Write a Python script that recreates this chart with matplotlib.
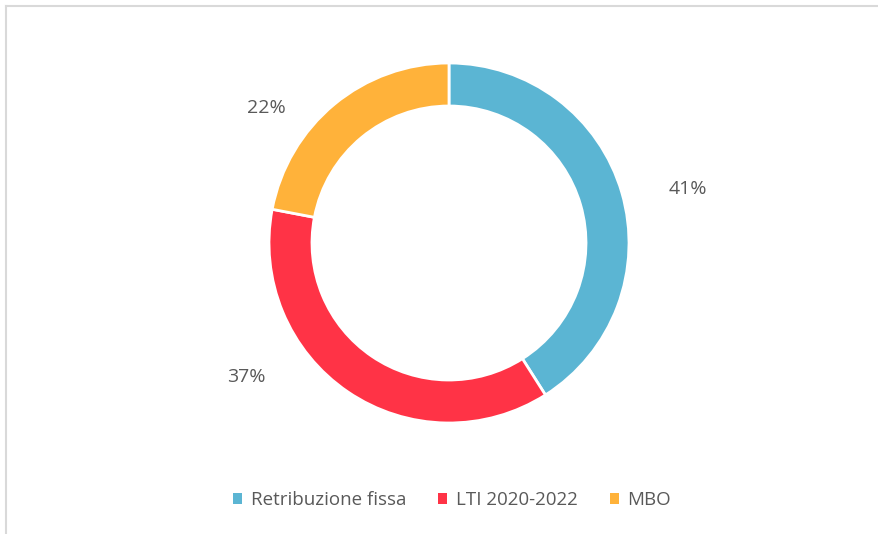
import matplotlib
matplotlib.use("Agg")
import matplotlib.pyplot as plt
from matplotlib.patches import Patch
from matplotlib.lines import Line2D

categories = ["Retribuzione fissa", "LTI 2020-2022", "MBO"]
values = [41, 37, 22]
labels = ["41%", "37%", "22%"]
colors = ["#5BB5D3", "#FF3346", "#FFB23A"]

W, H = 879, 534
fig = plt.figure(figsize=(W / 100, H / 100), dpi=100)
plt.rcParams['font.family'] = ['Open Sans', 'DejaVu Sans']

# chart frame (cropped at right/bottom): top and left edges only
fx, fy = 6.5 / W, 1 - 5.5 / H
fig.lines.append(Line2D([fx, 1.0], [fy, fy], transform=fig.transFigure,
                        color="#D9D9D9", linewidth=1.5))
fig.lines.append(Line2D([fx, fx], [0.0, fy], transform=fig.transFigure,
                        color="#D9D9D9", linewidth=1.5))

ax = fig.add_axes([0, 0, 1, 1])
cx, cy, R = 449, H - 243, 180
wedges, _ = ax.pie(values, colors=colors, startangle=90, counterclock=False,
                   radius=R, center=(cx, cy), frame=True,
                   wedgeprops=dict(width=43, edgecolor="white", linewidth=2))
ax.set_xlim(0, W)
ax.set_ylim(0, H)
ax.set_aspect("equal")
ax.axis("off")

label_pos = [(688, H - 189), (246, H - 377), (266, H - 108)]
for lab, (x, y) in zip(labels, label_pos):
    ax.text(x, y, lab, ha="center", va="center", fontsize=14, color="#595959")

handles = [Patch(facecolor=c, edgecolor="none") for c in colors]
fig.legend(handles, categories, loc="center", bbox_to_anchor=(452 / W, 1 - 500 / H),
           ncol=3, frameon=False, fontsize=13.5, handlelength=0.5, handleheight=0.5,
           handletextpad=0.45, columnspacing=1.7, labelcolor="#595959")

fig.savefig("out.png", dpi=100)
